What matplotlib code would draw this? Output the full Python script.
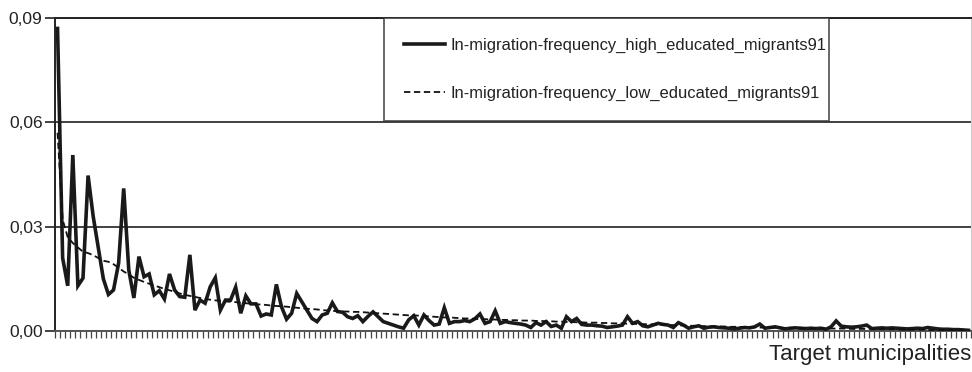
import numpy as np
import matplotlib.pyplot as plt

plt.rcParams['font.family'] = ['Liberation Sans', 'DejaVu Sans']

# in-migration frequency per target municipality (sorted by low educated)
high = [
    0.087, 0.021, 0.013, 0.0506, 0.013, 0.0152, 0.0447, 0.033, 0.024, 0.015,
    0.0105, 0.0118, 0.0195, 0.041, 0.0175, 0.0095, 0.0214, 0.0156, 0.0164, 0.0104,
    0.0116, 0.0092, 0.0164, 0.0118, 0.0099, 0.0097, 0.0219, 0.006, 0.0089, 0.008,
    0.0127, 0.0153, 0.006, 0.0089, 0.0089, 0.0126, 0.0051, 0.0101, 0.0078, 0.0078,
    0.0043, 0.0049, 0.0046, 0.0134, 0.007, 0.0034, 0.0051, 0.0108, 0.0084, 0.006,
    0.0036, 0.0027, 0.0046, 0.0051, 0.0081, 0.0056, 0.0054, 0.0041, 0.0036, 0.0044,
    0.0027, 0.0042, 0.0055, 0.0041, 0.0027, 0.0022, 0.0017, 0.0012, 0.0008, 0.0032,
    0.0044, 0.0017, 0.0046, 0.003, 0.0017, 0.002, 0.0067, 0.0022, 0.0027, 0.0027,
    0.003, 0.0027, 0.0035, 0.0049, 0.0022, 0.0027, 0.0058, 0.0022, 0.0027, 0.0024,
    0.0022, 0.002, 0.0017, 0.001, 0.0024, 0.0017, 0.0027, 0.0013, 0.0017, 0.0008,
    0.0041, 0.0027, 0.0036, 0.0019, 0.0017, 0.0017, 0.0015, 0.0014, 0.001, 0.0012,
    0.0014, 0.0017, 0.0041, 0.0022, 0.0027, 0.0015, 0.0012, 0.0017, 0.0022, 0.0019,
    0.0017, 0.001, 0.0024, 0.0017, 0.0008, 0.0012, 0.0015, 0.0008, 0.0011, 0.0012,
    0.001, 0.0009, 0.0008, 0.0006, 0.0008, 0.001, 0.0009, 0.0012, 0.002, 0.0008,
    0.001, 0.0012, 0.0009, 0.0006, 0.0008, 0.0009, 0.0008, 0.0007, 0.0008, 0.0007,
    0.0008, 0.0005, 0.0012, 0.0029, 0.0014, 0.0012, 0.0011, 0.0012, 0.0014, 0.0017,
    0.0007, 0.0008, 0.0009, 0.0008, 0.0009, 0.0008, 0.0007, 0.0006, 0.0007, 0.0008,
    0.0007, 0.001, 0.0008, 0.0006, 0.0005, 0.0005, 0.0004, 0.0004, 0.0003, 0.0002,
]

low = [
    0.057, 0.032, 0.027, 0.0253, 0.024, 0.0228, 0.0224, 0.0218, 0.021, 0.0202,
    0.0199, 0.0192, 0.0182, 0.0171, 0.0163, 0.0153, 0.0147, 0.0141, 0.0136, 0.0131,
    0.0126, 0.0121, 0.0117, 0.0113, 0.0108, 0.0104, 0.0101, 0.0098, 0.0095, 0.0092,
    0.009, 0.0088, 0.0087, 0.0085, 0.0084, 0.0083, 0.0081, 0.008, 0.0078, 0.0077,
    0.0076, 0.0075, 0.0073, 0.0072, 0.0071, 0.007, 0.0068, 0.0067, 0.0065, 0.0064,
    0.0063, 0.0062, 0.006, 0.0059, 0.0058, 0.0057, 0.0056, 0.0056, 0.0055, 0.0055,
    0.0054, 0.0053, 0.0052, 0.0051, 0.005, 0.0049, 0.0048, 0.0047, 0.0046, 0.0045,
    0.0045, 0.0044, 0.0043, 0.0042, 0.0041, 0.004, 0.0039, 0.0039, 0.0038, 0.0037,
    0.0036, 0.0036, 0.0035, 0.0034, 0.0034, 0.0033, 0.0033, 0.0032, 0.0032, 0.0031,
    0.0031, 0.003, 0.003, 0.003, 0.0029, 0.0029, 0.0028, 0.0028, 0.0027, 0.0027,
    0.0026, 0.0026, 0.0025, 0.0025, 0.0024, 0.0024, 0.0024, 0.0023, 0.0023, 0.0022,
    0.0022, 0.0022, 0.0021, 0.0021, 0.002, 0.002, 0.0019, 0.0019, 0.0018, 0.0018,
    0.0017, 0.0017, 0.0016, 0.0016, 0.0015, 0.0015, 0.0014, 0.0014, 0.0014, 0.0013,
    0.0013, 0.0013, 0.0012, 0.0012, 0.0012, 0.0011, 0.0011, 0.0011, 0.001, 0.001,
    0.001, 0.001, 0.0009, 0.0009, 0.0009, 0.0009, 0.0008, 0.0008, 0.0008, 0.0008,
    0.0008, 0.0007, 0.0007, 0.0007, 0.0007, 0.0007, 0.0006, 0.0006, 0.0006, 0.0006,
    0.0006, 0.0005, 0.0005, 0.0005, 0.0005, 0.0005, 0.0004, 0.0004, 0.0004, 0.0004,
    0.0004, 0.0003, 0.0003, 0.0003, 0.0003, 0.0003, 0.0002, 0.0002, 0.0002, 0.0001,
]

labels = ['In-migration-frequency_high_educated_migrants91',
          'In-migration-frequency_low_educated_migrants91']
yticks = [0.0, 0.03, 0.06, 0.09]
yticklabels = ['0,00', '0,03', '0,06', '0,09']

N = len(high)

fig = plt.figure(figsize=(9.72, 3.72), dpi=100)
ax = fig.add_axes([55/972, 1-331/372, 916/972, 313/372])

ax.plot(np.arange(len(high)), high, color='#1a1a1a', lw=2.6,
        solid_joinstyle='miter', label=labels[0], zorder=3)
ax.plot(np.arange(len(low)), low, color='#111111', lw=1.3,
        linestyle=(0, (3.5, 2)), label=labels[1], zorder=4)

ax.set_xlim(-0.5, N-0.5)
ax.set_ylim(0, 0.09)
ax.set_yticks(yticks)
ax.set_yticklabels(yticklabels, fontsize=12.5, color='#222222')
ax.set_xticks(np.arange(N+1)-0.5)
ax.set_xticklabels([])
ax.tick_params(axis='x', length=5, width=0.9, color='#444444', direction='out')
ax.tick_params(axis='y', length=7, width=1.2, color='#222222', pad=2)

ax.yaxis.grid(True, color='#333333', lw=1.3)
ax.set_axisbelow(True)
for side in ['left', 'bottom', 'top']:
    ax.spines[side].set_color('#222222')
    ax.spines[side].set_linewidth(1.4)
ax.spines['bottom'].set_color('#555555')
ax.spines['right'].set_color('#cccccc')
ax.spines['right'].set_linewidth(0.8)

ax.set_xlabel('Target municipalities', loc='right', fontsize=16,
              labelpad=1, color='#222222')

# legend box spans a fixed width, like the original
leg = ax.legend(loc='upper left', mode='expand',
                bbox_to_anchor=((384-55)/916, 0.0, 445/916, 1.0),
                borderaxespad=0, fontsize=11.9, frameon=True, fancybox=False,
                borderpad=1.2, handlelength=2.5, handletextpad=0.3,
                labelspacing=2.0)
leg.get_frame().set_edgecolor('#333333')
leg.get_frame().set_linewidth(1.3)
for t in leg.get_texts():
    t.set_color('#222222')

fig.savefig('out.png', dpi=100)
plt.close()
